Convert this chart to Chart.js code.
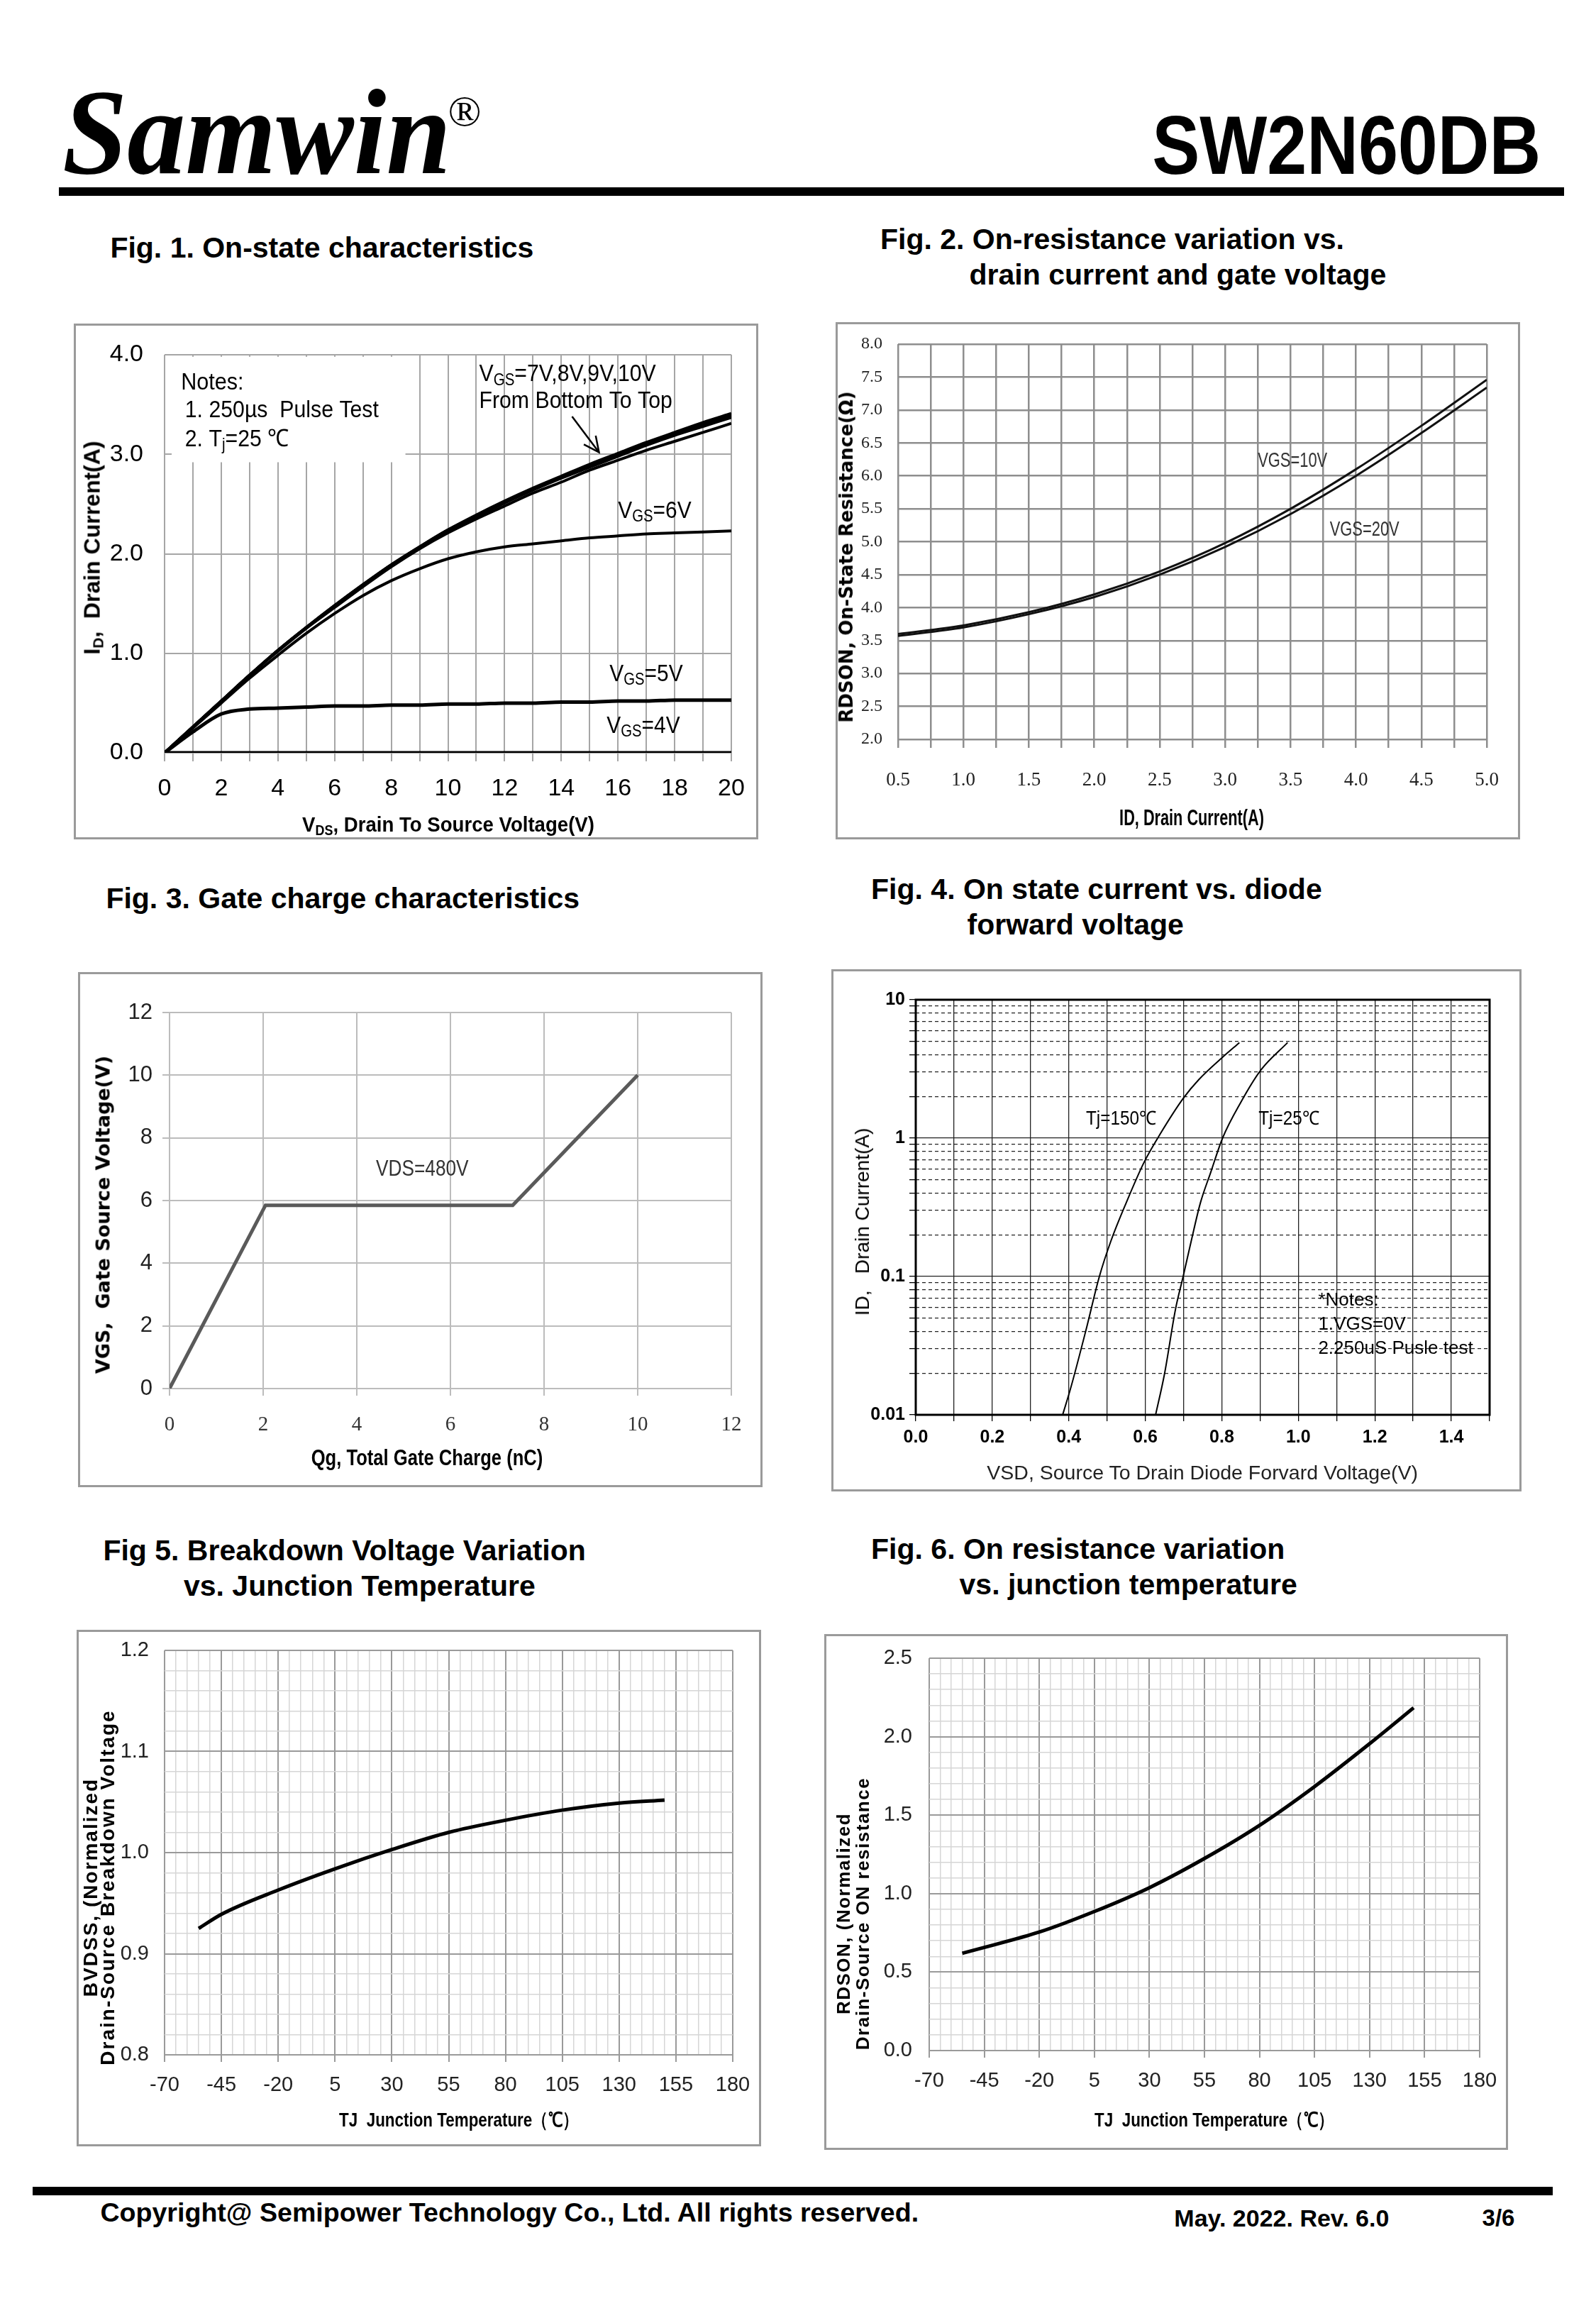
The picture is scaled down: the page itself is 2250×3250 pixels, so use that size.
<!DOCTYPE html>
<html>
<head>
<meta charset="utf-8">
<script src="https://cdn.jsdelivr.net/npm/chart.js@4.4.1/dist/chart.umd.min.js"></script>
<style>
  html,body{margin:0;padding:0;background:#fff;}
  body{width:2250px;height:3250px;position:relative;overflow:hidden;font-family:"Liberation Sans",Arial,sans-serif;color:#000;}
  .abs{position:absolute;white-space:nowrap;}
  canvas{position:absolute;}
  .frame{position:absolute;border:3px solid #9a9a9a;box-sizing:border-box;pointer-events:none;}
  .bar{position:absolute;background:#000;}
  .rot{position:absolute;white-space:nowrap;text-align:center;}
  .ctr{position:absolute;white-space:nowrap;}
  sub{font-size:65%;vertical-align:-0.25em;line-height:0;}
</style>
</head>
<body>
<script>
// ---------------- DATA ----------------
// Fig.1 On-state characteristics
const fig1Vds   = [0,1,2,3,4,5,6,7,8,9,10,11,12,13,14,15,16,17,18,19,20];
const fig1Vgs10 = [0,0.26,0.52,0.78,1.03,1.26,1.48,1.69,1.89,2.07,2.24,2.39,2.53,2.66,2.78,2.90,3.01,3.12,3.22,3.32,3.41];
const fig1Vgs9  = [0,0.26,0.52,0.78,1.03,1.26,1.48,1.69,1.89,2.07,2.24,2.38,2.52,2.65,2.77,2.89,3.00,3.11,3.21,3.30,3.39];
const fig1Vgs8  = [0,0.26,0.52,0.78,1.03,1.26,1.47,1.68,1.88,2.06,2.23,2.37,2.51,2.64,2.76,2.87,2.98,3.09,3.19,3.28,3.37];
const fig1Vgs7  = [0,0.26,0.52,0.78,1.02,1.25,1.46,1.67,1.87,2.05,2.21,2.35,2.48,2.61,2.72,2.84,2.94,3.04,3.13,3.22,3.31];
const fig1Vgs6  = [0,0.25,0.50,0.75,0.98,1.20,1.40,1.58,1.73,1.85,1.95,2.02,2.07,2.10,2.13,2.16,2.18,2.20,2.21,2.22,2.23];
const fig1Vgs5  = [0,0.21,0.39,0.44,0.45,0.46,0.47,0.47,0.48,0.48,0.49,0.49,0.50,0.50,0.51,0.51,0.52,0.52,0.53,0.53,0.53];
const fig1Vgs4  = [0,0,0,0,0,0,0,0,0,0,0,0,0,0,0,0,0,0,0,0,0];
const fig1XTicks = [0,1,2,3,4,5,6,7,8,9,10,11,12,13,14,15,16,17,18,19,20];
const fig1XLabels = ['0','','2','','4','','6','','8','','10','','12','','14','','16','','18','','20'];
const fig1YTicks = [0,1,2,3,4];
const fig1YLabels = ['0.0','1.0','2.0','3.0','4.0'];
const fig1Arrow = [[14.38,3.38],[15.33,3.02]];

// Fig.2 On-resistance vs drain current
const fig2Id    = [0.5,1.0,1.5,2.0,2.5,3.0,3.5,4.0,4.5,5.0];
const fig2Vgs10 = [3.60,3.73,3.93,4.20,4.55,4.98,5.50,6.10,6.76,7.46];
const fig2Vgs20 = [3.57,3.70,3.90,4.16,4.50,4.92,5.42,6.00,6.65,7.34];
const fig2XTicks = [0.5,0.75,1.0,1.25,1.5,1.75,2.0,2.25,2.5,2.75,3.0,3.25,3.5,3.75,4.0,4.25,4.5,4.75,5.0];
const fig2XLabels = ['0.5','','1.0','','1.5','','2.0','','2.5','','3.0','','3.5','','4.0','','4.5','','5.0'];
const fig2YTicks = [2.0,2.5,3.0,3.5,4.0,4.5,5.0,5.5,6.0,6.5,7.0,7.5,8.0];
const fig2YLabels = ['2.0','2.5','3.0','3.5','4.0','4.5','5.0','5.5','6.0','6.5','7.0','7.5','8.0'];

// Fig.3 Gate charge
const fig3Qg  = [0,2.05,7.33,10];
const fig3Vgs = [0,5.85,5.85,10];
const fig3XTicks = [0,2,4,6,8,10,12];
const fig3XLabels = ['0','2','4','6','8','10','12'];
const fig3YTicks = [0,2,4,6,8,10,12];
const fig3YLabels = ['0','2','4','6','8','10','12'];

// Fig.4 Diode forward voltage
const fig4Vsd150 = [0.384,0.405,0.445,0.48,0.51,0.55,0.597,0.638,0.70,0.74,0.80,0.846];
const fig4Id150  = [0.01,0.0156,0.041,0.10,0.18,0.34,0.67,1.06,1.95,2.65,3.8,4.9];
const fig4Vsd25  = [0.627,0.65,0.679,0.699,0.72,0.744,0.771,0.802,0.849,0.902,0.972];
const fig4Id25   = [0.01,0.0196,0.058,0.10,0.18,0.34,0.565,1.0,1.8,3.1,4.9];
const fig4XTicks = [0,0.1,0.2,0.3,0.4,0.5,0.6,0.7,0.8,0.9,1.0,1.1,1.2,1.3,1.4,1.5];
const fig4XLabels = ['0.0','','0.2','','0.4','','0.6','','0.8','','1.0','','1.2','','1.4',''];
const fig4YTicks = [0.01,0.02,0.03,0.04,0.05,0.06,0.07,0.08,0.09,0.1,0.2,0.3,0.4,0.5,0.6,0.7,0.8,0.9,1,2,3,4,5,6,7,8,9,10];
const fig4YLabels = ['0.01','','','','','','','','','0.1','','','','','','','','','1','','','','','','','','','10'];

// Fig.5 Breakdown voltage vs Tj
const fig5Tj = [-55,-45,-20,5,30,55,80,105,130,150];
const fig5Bv = [0.925,0.939,0.963,0.984,1.003,1.020,1.032,1.042,1.049,1.052];
// Fig.6 On resistance vs Tj
const fig6Tj  = [-55,-45,-20,5,30,55,80,105,130,150];
const fig6Rds = [0.62,0.657,0.755,0.886,1.038,1.224,1.435,1.682,1.955,2.184];
// shared temperature axis: ticks every 5, labels every 25
const tjTicks  = Array.from({length:51},(_,i)=>-70+5*i);
const tjLabels = tjTicks.map((v,i)=> i%5===0 ? String(v) : '');
const fig5YTicks  = Array.from({length:21},(_,i)=>+(0.8+0.02*i).toFixed(2));
const fig5YLabels = fig5YTicks.map((v,i)=> i%5===0 ? v.toFixed(1) : '');
const fig6YTicks  = Array.from({length:26},(_,i)=>+(0.1*i).toFixed(1));
const fig6YLabels = fig6YTicks.map((v,i)=> i%5===0 ? v.toFixed(1) : '');
</script>

<canvas id="c1"></canvas><canvas id="c2"></canvas><canvas id="c3"></canvas>
<canvas id="c4"></canvas><canvas id="c5"></canvas><canvas id="c6"></canvas>

<script>
const K = 0.996;   // page coordinate scale
const SANS = '"Liberation Sans",Arial,sans-serif';
const SERIF = '"Liberation Serif","Times New Roman",serif';
const DV = '"DejaVu Sans",sans-serif';

// ---------- page text/decoration helpers ----------
function add(cls, style, html){
  const d = document.createElement('div'); d.className = cls;
  d.style.cssText = style; if (html !== undefined) d.innerHTML = html;
  document.body.appendChild(d); return d;
}
function txt(x, y, font, html, extra){ // left/top anchored
  return add('abs', `left:${x*K}px;top:${y*K}px;font:${font};${extra||''}`, html);
}
function ctr(x, y, font, html, sx, extra){ // centered
  return add('ctr', `left:${x*K}px;top:${y*K}px;font:${font};transform:translate(-50%,-50%) scaleX(${sx||1});${extra||''}`, html);
}
function rot(x, y, font, html, extra){ // rotated -90, centered
  return add('rot', `left:${x*K}px;top:${y*K}px;font:${font};transform:translate(-50%,-50%) rotate(-90deg);${extra||''}`, html);
}
function bar(x, y, w, h){ add('bar', `left:${x*K}px;top:${y*K}px;width:${w*K}px;height:${h}px;`); }
function frame(l, t, r, b){ add('frame', `left:${Math.round(l*K)}px;top:${Math.round(t*K)}px;width:${Math.round(r*K)-Math.round(l*K)}px;height:${Math.round(b*K)-Math.round(t*K)}px;`); }

// Header
txt(88, 100, "italic bold 172px/172px 'Liberation Serif',serif", 'Samwin', 'transform:scaleX(0.955);transform-origin:left top;');
txt(634, 126, "normal 62px/62px 'Liberation Serif',serif", '®');
add('abs', `right:${2250-2181*K}px;top:${147*K}px;font:bold 117px/117px 'Liberation Sans',Arial,sans-serif;transform:scaleX(0.86);transform-origin:right top;`, 'SW2N60DB');
bar(83, 265, 2131, 12);

// Figure titles
const TF = "bold 41px/44px 'Liberation Sans',Arial";
txt(156, 328, TF, 'Fig. 1. On-state characteristics');
txt(1246, 316, TF, 'Fig. 2. On-resistance variation vs.');
txt(1372, 366, TF, 'drain current and gate voltage');
txt(150, 1249, TF, 'Fig. 3. Gate charge characteristics');
txt(1233, 1236, TF, 'Fig. 4. On state current vs. diode');
txt(1369, 1286, TF, 'forward voltage');
txt(146, 2172, TF, 'Fig 5. Breakdown Voltage Variation');
txt(260, 2222, TF, 'vs. Junction Temperature');
txt(1233, 2170, TF, 'Fig. 6. On resistance variation');
txt(1358, 2220, TF, 'vs. junction temperature');

// Axis titles
rot(131, 775, `bold 32px ${SANS}`, 'I<sub>D</sub>,&nbsp; Drain Current(A)');
ctr(635, 1167, `bold 30px ${SANS}`, 'V<sub>DS</sub>, Drain To Source Voltage(V)', 0.92);
rot(1198, 788, `bold 26px ${DV}`, 'RDSON, On-State Resistance(Ω)');
ctr(1687, 1158, `bold 31px ${SANS}`, 'ID, Drain Current(A)', 0.7);
rot(146, 1719, `bold 27px ${DV}`, 'VGS,&nbsp; Gate Source Voltage(V)');
ctr(604, 2062, `bold 32px ${SANS}`, 'Qg, Total Gate Charge (nC)', 0.8);
rot(1221, 1729, `normal 28px ${SANS}`, 'ID,&nbsp;&nbsp; Drain Current(A)');
ctr(1702, 2083, `normal 28.5px ${SANS}`, 'VSD, Source To Drain Diode Forvard Voltage(V)', 1, 'color:#222;');
rot(129, 2671, `bold 28px ${SANS}`, 'BVDSS, (Normalized', 'letter-spacing:2px;');
rot(153, 2671, `bold 28px ${SANS}`, 'Drain-Source Breakdown Voltage', 'letter-spacing:2px;');
ctr(650, 3000, `bold 28px ${SANS}`, 'TJ&nbsp; Junction Temperature（℃）', 0.8);
rot(1194, 2708, `bold 26px ${SANS}`, 'RDSON, (Normalized', 'letter-spacing:1.5px;');
rot(1221, 2708, `bold 26px ${SANS}`, 'Drain-Source ON resistance', 'letter-spacing:1.5px;');
ctr(1719, 3000, `bold 28px ${SANS}`, 'TJ&nbsp; Junction Temperature（℃）', 0.8);

// Footer
bar(46, 3094, 2152, 12);
txt(142, 3110, "bold 37.6px/40px 'Liberation Sans',Arial", 'Copyright@ Semipower Technology Co., Ltd. All rights reserved.');
txt(1662, 3119, "bold 34px/38px 'Liberation Sans',Arial", 'May. 2022. Rev. 6.0');
txt(2098, 3119, "bold 33px/38px 'Liberation Sans',Arial", '3/6');

// Frames
frame(104,458,1073,1188); frame(1183,456,2152,1188);
frame(110,1375,1079,2104); frame(1177,1371,2154,2110);
frame(108,2306,1077,3037); frame(1167,2312,2135,3042);

// ---------- chart helpers ----------
function pts(xs, ys){ return xs.map((x,i)=>({x:x, y:ys[i]})); }
function fixTicks(vals){ return s => { s.ticks = vals.map(v=>({value:v})); }; }
function zeroPad(s){ s.paddingLeft=0; s.paddingRight=0; s.paddingTop=0; s.paddingBottom=0; }

function makeChart(id, box0, plot0, datasets, scales, plugins){
  const [bl,bt,br,bb] = box0.map(v=>Math.round(v*K)), [pl,pt,pr,pb] = plot0.map(v=>Math.round(v*K));
  const c = document.getElementById(id);
  c.width = br-bl; c.height = bb-bt;
  c.style.left = bl+'px'; c.style.top = bt+'px';
  c.style.width = (br-bl)+'px'; c.style.height = (bb-bt)+'px';
  const YW = pl-bl, XH = bb-pb;
  scales.x.afterFit = s => { s.height = XH; zeroPad(s); };
  scales.y.afterFit = s => { s.width = YW; zeroPad(s); };
  return new Chart(c, {
    type:'line',
    data:{datasets},
    options:{
      responsive:false, animation:false, devicePixelRatio:1,
      layout:{padding:{left:0, top:pt-bt, right:br-pr, bottom:0}},
      plugins:{legend:{display:false}, tooltip:{enabled:false}, title:{display:false}},
      elements:{point:{radius:0}, line:{fill:false}},
      scales
    },
    plugins: plugins||[]
  });
}

// rich text on canvas: parts = [[text, isSub], ...], sx = horizontal condensing
function drawRich(ctx, x, y, parts, size, family, weight, color, sx){
  ctx.save();
  ctx.translate(x, y); ctx.scale(sx||1, 1);
  ctx.fillStyle = color; ctx.textBaseline = 'middle'; ctx.textAlign = 'left';
  let cx = 0;
  parts.forEach(p=>{
    const sz = p[1] ? size*0.68 : size;
    ctx.font = `${weight} ${sz}px ${family}`;
    ctx.fillText(p[0], cx, p[1] ? size*0.26 : 0);
    cx += ctx.measureText(p[0]).width;
  });
  ctx.restore();
}
function textPlugin(id, items, before){
  return { id,
    beforeDatasetsDraw(chart){ if(before) before(chart); },
    afterDraw(chart){
      const xs = chart.scales.x, ys = chart.scales.y, ctx = chart.ctx;
      items.forEach(it=>{
        drawRich(ctx, xs.getPixelForValue(it.x), ys.getPixelForValue(it.y), it.parts, it.size,
                 it.family||SANS, it.weight||'normal', it.color||'#000', it.sx);
      });
    }
  };
}
function line(xs, ys, color, width, tension){
  return {data:pts(xs,ys), borderColor:color, borderWidth:width, pointRadius:0, fill:false,
          tension: tension, cubicInterpolationMode: tension>0 ? 'monotone' : 'default'};
}
function linScale(min, max, ticks, labels, o){
  return {
    type: o.type||'linear', min, max,
    afterBuildTicks: fixTicks(ticks),
    ticks:{autoSkip:false, maxRotation:0, minRotation:0, padding:o.pad, color:o.tc||'#000',
           font:{family:o.ff, size:o.fs, weight:o.fw||'normal'},
           callback:(v,i)=>labels[i]},
    grid:{color:o.gc, lineWidth:o.gw, drawTicks:o.tl>0, tickLength:o.tl||0, tickColor:o.tickc||o.gc},
    border:{display:false}
  };
}

// ---------- Fig 1 ----------
makeChart('c1', [104,458,1073,1188], [233,502,1035,1065], [
  line(fig1Vds, fig1Vgs4, '#000', 5, 0.4),
  line(fig1Vds, fig1Vgs5, '#000', 5, 0.4),
  line(fig1Vds, fig1Vgs6, '#000', 4, 0.4),
  line(fig1Vds, fig1Vgs7, '#000', 4, 0.4),
  line(fig1Vds, fig1Vgs8, '#000', 4, 0.4),
  line(fig1Vds, fig1Vgs9, '#000', 4, 0.4),
  line(fig1Vds, fig1Vgs10,'#000', 4, 0.4)
], {
  x: linScale(0,20,fig1XTicks,fig1XLabels,{ff:SANS,fs:34,pad:18,gc:'#a6a6a6',gw:2,tl:12}),
  y: linScale(0,4,fig1YTicks,fig1YLabels,{ff:SANS,fs:34,pad:30,gc:'#a6a6a6',gw:2,tl:0})
}, [textPlugin('t1', [
  {x:0.58,y:3.72,parts:[['Notes:']],size:34,sx:0.9},
  {x:0.72,y:3.44,parts:[['1. 250µs  Pulse Test']],size:34,sx:0.89},
  {x:0.72,y:3.15,parts:[['2. T'],['j',1],['=25 ℃']],size:34,sx:0.89},
  {x:11.1,y:3.80,parts:[['V'],['GS',1],['=7V,8V,9V,10V']],size:34,sx:0.89},
  {x:11.1,y:3.53,parts:[['From Bottom To Top']],size:34,sx:0.89},
  {x:16.0,y:2.43,parts:[['V'],['GS',1],['=6V']],size:34,sx:0.88},
  {x:15.7,y:0.79,parts:[['V'],['GS',1],['=5V']],size:34,sx:0.88},
  {x:15.6,y:0.27,parts:[['V'],['GS',1],['=4V']],size:34,sx:0.88}
], chart=>{
  // white notes box
  const xs=chart.scales.x, ys=chart.scales.y, ctx=chart.ctx;
  const x0=xs.getPixelForValue(0.25), x1=xs.getPixelForValue(8.5);
  const y0=ys.getPixelForValue(3.98), y1=ys.getPixelForValue(2.92);
  ctx.save(); ctx.fillStyle='#fff'; ctx.fillRect(x0,y0,x1-x0,y1-y0); ctx.restore();
}), {id:'arrow1', afterDraw(chart){
  const xs=chart.scales.x, ys=chart.scales.y, ctx=chart.ctx;
  const ax=xs.getPixelForValue(fig1Arrow[0][0]), ay=ys.getPixelForValue(fig1Arrow[0][1]);
  const bx=xs.getPixelForValue(fig1Arrow[1][0]), by=ys.getPixelForValue(fig1Arrow[1][1]);
  ctx.save(); ctx.strokeStyle='#000'; ctx.lineWidth=2.5;
  ctx.beginPath(); ctx.moveTo(ax,ay); ctx.lineTo(bx,by); ctx.stroke();
  const ang=Math.atan2(by-ay,bx-ax), L=24;
  ctx.beginPath();
  ctx.moveTo(bx-L*Math.cos(ang-0.45), by-L*Math.sin(ang-0.45));
  ctx.lineTo(bx,by);
  ctx.lineTo(bx-L*Math.cos(ang+0.45), by-L*Math.sin(ang+0.45));
  ctx.stroke(); ctx.restore();
}}]);

// ---------- Fig 2 ----------
makeChart('c2', [1183,456,2152,1188], [1271,487,2104,1046], [
  line(fig2Id, fig2Vgs10, '#111', 3, 0.4),
  line(fig2Id, fig2Vgs20, '#111', 3, 0.4)
], {
  x: linScale(0.5,5.0,fig2XTicks,fig2XLabels,{ff:SERIF,fs:27,pad:30,gc:'#8e8e8e',gw:2.5,tl:12,tc:'#222'}),
  y: linScale(2,8,fig2YTicks,fig2YLabels,{ff:SERIF,fs:24,pad:22,gc:'#8e8e8e',gw:2.5,tl:0,tc:'#222'})
}, [textPlugin('t2', [
  {x:3.25,y:6.23,parts:[['VGS=10V']],size:30,color:'#333',sx:0.73},
  {x:3.80,y:5.18,parts:[['VGS=20V']],size:30,color:'#333',sx:0.73}
])]);

// ---------- Fig 3 ----------
makeChart('c3', [110,1375,1079,2104], [240,1433,1035,1965], [
  line(fig3Qg, fig3Vgs, '#5a5a5a', 5, 0)
], {
  x: linScale(0,12,fig3XTicks,fig3XLabels,{ff:SERIF,fs:29,pad:24,gc:'#bcbcbc',gw:2,tl:10,tc:'#333'}),
  y: linScale(0,12,fig3YTicks,fig3YLabels,{ff:SANS,fs:31,pad:14,gc:'#bcbcbc',gw:2,tl:10,tc:'#222'})
}, [textPlugin('t3', [
  {x:4.41,y:7.0,parts:[['VDS=480V']],size:32,color:'#333',sx:0.82}
])]);

// ---------- Fig 4 ----------
const isDecade = v => Math.abs(Math.log10(v) - Math.round(Math.log10(v))) < 1e-6;
makeChart('c4', [1177,1371,2154,2110], [1296,1415,2108,2002], [
  line(fig4Vsd150, fig4Id150, '#000', 2, 0.4),
  line(fig4Vsd25,  fig4Id25,  '#000', 2, 0.4)
], {
  x: linScale(0,1.5,fig4XTicks,fig4XLabels,{ff:SANS,fs:25,fw:'bold',pad:8,gc:'#222',gw:1.3,tl:9,tickc:'#000'}),
  y: Object.assign(linScale(0.01,10,fig4YTicks,fig4YLabels,{type:'logarithmic',ff:SANS,fs:25,fw:'bold',pad:6,gc:'#222',gw:1.3,tl:9,tickc:'#000'}),
     {border:{display:false, dash: ctx => (ctx.tick && !isDecade(ctx.tick.value)) ? [5,4] : []}})
}, [textPlugin('t4', [
  {x:0.445,y:1.37,parts:[['Tj=150℃']],size:27,sx:0.9},
  {x:0.896,y:1.37,parts:[['Tj=25℃']],size:27,sx:0.9},
  {x:1.052,y:0.0667,parts:[['*Notes:']],size:26},
  {x:1.052,y:0.0448,parts:[['1.VGS=0V']],size:26},
  {x:1.052,y:0.0300,parts:[['2.250uS Pusle test']],size:26}
]), {id:'frame4', afterDraw(chart){
  const a=chart.chartArea, ctx=chart.ctx;
  ctx.save(); ctx.strokeStyle='#000'; ctx.lineWidth=3;
  ctx.strokeRect(a.left,a.top,a.right-a.left,a.bottom-a.top); ctx.restore();
}}]);

// ---------- Fig 5 / 6 ----------
const tjMajor = (v) => ((v+70)%25===0);
function tjGrid(majorTest){
  return {
    color: c => (c.tick && majorTest(c)) ? '#9a9a9a' : '#d6d6d6',
    lineWidth: c => (c.tick && majorTest(c)) ? 2 : 1.5,
    drawTicks:true, tickLength:10,
    tickColor: c => (c.tick && majorTest(c)) ? '#9a9a9a' : 'rgba(0,0,0,0)'
  };
}
const xTj = () => { const s = linScale(-70,180,tjTicks,tjLabels,{ff:SANS,fs:29,pad:16,gc:'#999',gw:2,tl:10,tc:'#222'});
  s.grid = tjGrid(c=>tjMajor(c.tick.value)); return s; };
const yTj = (min,max,ticks,labels,pad) => { const s = linScale(min,max,ticks,labels,{ff:SANS,fs:29,pad:pad,gc:'#999',gw:2,tl:0,tc:'#222'});
  s.grid = tjGrid(c=>c.index%5===0); s.grid.drawTicks=false; s.grid.tickLength=0; return s; };

makeChart('c5', [108,2306,1077,3037], [233,2335,1037,2908], [
  line(fig5Tj, fig5Bv, '#000', 5, 0.4)
], { x: xTj(), y: yTj(0.8,1.2,fig5YTicks,fig5YLabels,22) });

makeChart('c6', [1167,2312,2135,3042], [1315,2346,2094,2902], [
  line(fig6Tj, fig6Rds, '#000', 5, 0.4)
], { x: xTj(), y: yTj(0,2.5,fig6YTicks,fig6YLabels,24) });
</script>
</body>
</html>
